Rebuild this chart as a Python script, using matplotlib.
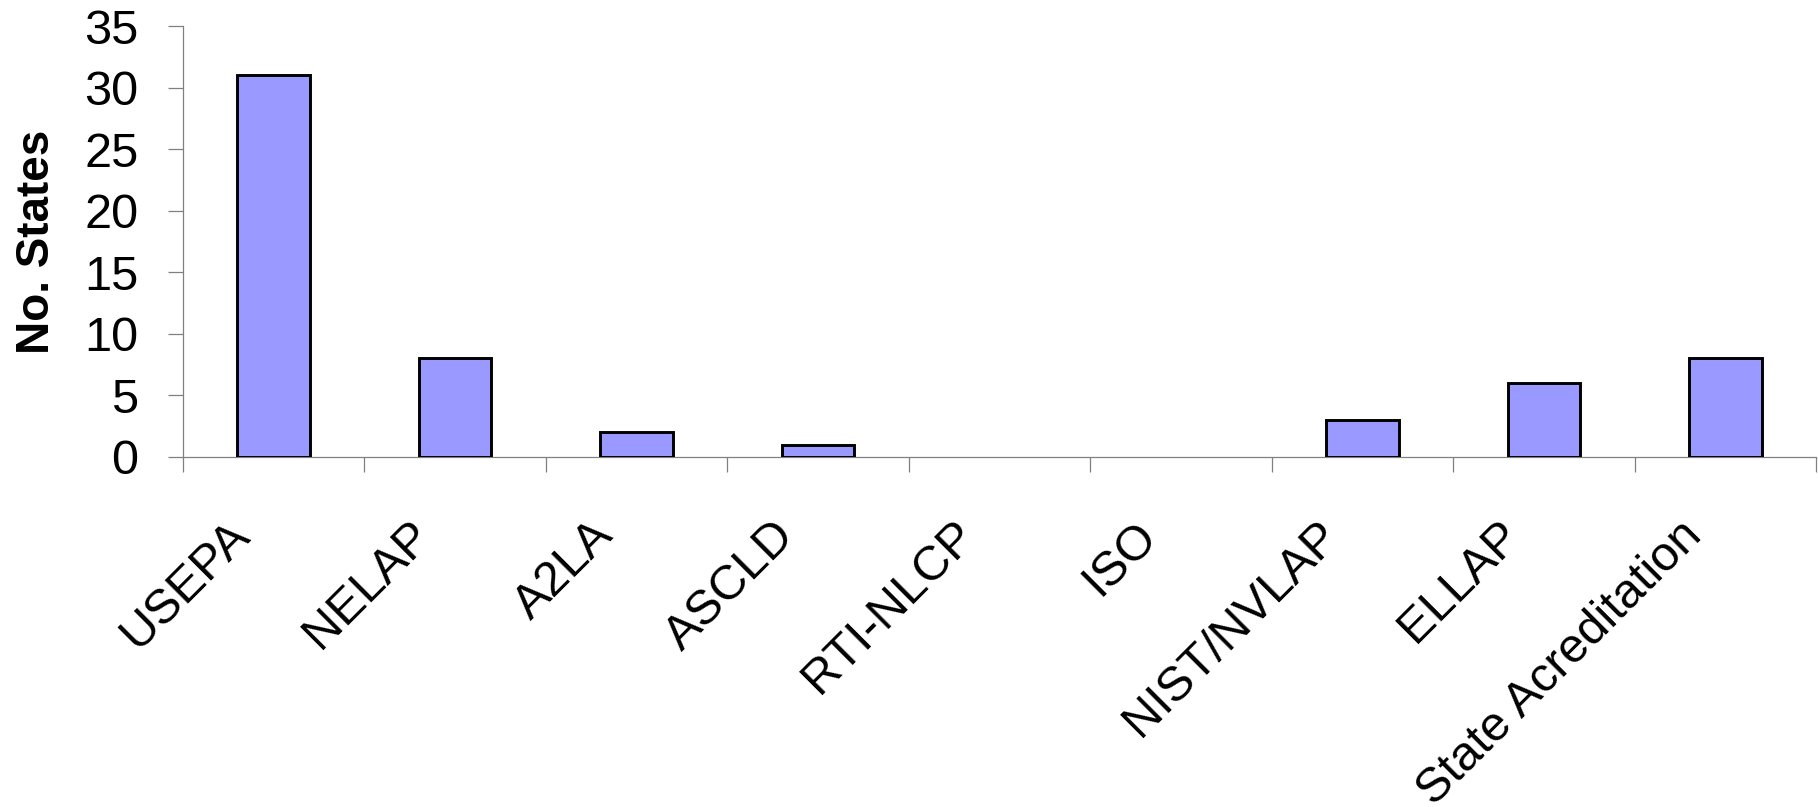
import numpy as np
import matplotlib
matplotlib.use("Agg")
import matplotlib.pyplot as plt
import matplotlib.transforms as mtransforms

plt.rcParams['font.family'] = ['Liberation Sans', 'DejaVu Sans']

# data
programs = ["USEPA", "NELAP", "A2LA", "ASCLD", "RTI-NLCP", "ISO",
            "NIST/NVLAP", "ELLAP", "State Acreditation"]
n_states = [31, 8, 2, 1, 0, 0, 3, 6, 8]
y_ticks = [0, 5, 10, 15, 20, 25, 30, 35]

fig = plt.figure(figsize=(18.18, 8.07), dpi=100)
ax = fig.add_axes([183 / 1818, 1 - 457 / 807, (1816 - 183) / 1818, (457 - 26) / 807])

x = np.arange(len(programs))
# no outline on empty bars
lw = [2.1 if v > 0 else 0 for v in n_states]
ax.bar(x, n_states, width=0.4, color="#9999FF", edgecolor="black", linewidth=lw, zorder=3)

ax.set_xlim(-0.5, len(programs) - 0.5)
ax.set_ylim(0, 35)

# axes look
for s in ["top", "right"]:
    ax.spines[s].set_visible(False)
for s in ["left", "bottom"]:
    ax.spines[s].set_color("#808080")
    ax.spines[s].set_linewidth(0.9)

ax.set_yticks(y_ticks)
ax.set_yticklabels([str(t) for t in y_ticks])
ax.tick_params(axis="y", length=11, width=0.9, color="#808080", pad=21, labelsize=35)

# category labels in the middle, tick marks on the boundaries
ax.set_xticks(x)
ax.set_xticklabels(programs, rotation=45, ha="right")
ax.set_xticks(np.arange(len(programs) + 1) - 0.5, minor=True)
ax.tick_params(axis="x", which="major", length=0, pad=40, labelsize=35)
ax.tick_params(axis="x", which="minor", length=11, width=0.9, color="#808080")

shift = mtransforms.ScaledTranslation(-15 / 100, 0, fig.dpi_scale_trans)
for lbl in ax.get_xticklabels():
    lbl.set_transform(lbl.get_transform() + shift)

ax.set_ylabel("No. States", fontsize=33, fontweight="bold")
ax.yaxis.set_label_coords(-0.076, 0.5)

fig.savefig("out.png", dpi=100)
